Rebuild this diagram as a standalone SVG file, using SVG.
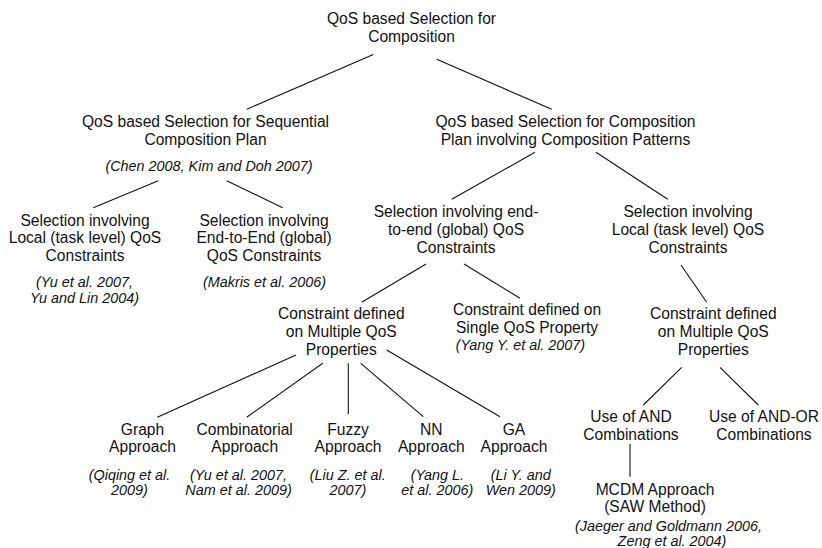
<svg xmlns="http://www.w3.org/2000/svg" width="822" height="548" viewBox="0 0 822 548">
<style>
text{font-family:"Liberation Sans",Arial,Helvetica,sans-serif;font-size:15.6px;text-anchor:middle;fill:#111}
text.c{font-style:italic;font-size:14.4px}
#edges line{stroke:#111;stroke-width:1.1}
</style>
<rect width="822" height="548" fill="#fff"/>
<g id="edges">
<line x1="373.3" y1="54.5" x2="246.7" y2="109.3"/>
<line x1="436.7" y1="59.3" x2="551.7" y2="109.3"/>
<line x1="158.3" y1="180.7" x2="93.3" y2="207.7"/>
<line x1="226.7" y1="180.7" x2="282.7" y2="207.7"/>
<line x1="535" y1="152.3" x2="451.7" y2="199.3"/>
<line x1="596" y1="152.3" x2="667.7" y2="199.3"/>
<line x1="426" y1="264" x2="361.7" y2="302.3"/>
<line x1="464" y1="264" x2="520" y2="298.3"/>
<line x1="681" y1="265" x2="706.7" y2="302.3"/>
<line x1="296" y1="355" x2="157.3" y2="417.3"/>
<line x1="322.7" y1="363.3" x2="246.7" y2="417.3"/>
<line x1="348.3" y1="363.3" x2="348.3" y2="414"/>
<line x1="360.7" y1="363.3" x2="423.3" y2="416.7"/>
<line x1="386.7" y1="350" x2="500" y2="416.7"/>
<line x1="681.7" y1="367.3" x2="643.3" y2="405"/>
<line x1="720" y1="367.3" x2="758.3" y2="405"/>
<line x1="630" y1="444" x2="630" y2="476.7"/>
</g>
<g id="root">
<text x="411.5" y="24.3">QoS based Selection for</text>
<text x="411.5" y="42">Composition</text>
</g>
<g id="seq">
<text x="205.5" y="127">QoS based Selection for Sequential</text>
<text x="205.5" y="145">Composition Plan</text>
<text class="c" x="209" y="171">(Chen 2008, Kim and Doh 2007)</text>
</g>
<g id="pat">
<text x="565.5" y="127">QoS based Selection for Composition</text>
<text x="565.5" y="145">Plan involving Composition Patterns</text>
</g>
<g id="seqLocal">
<text x="85" y="225.5">Selection involving</text>
<text x="85" y="243.3">Local (task level) QoS</text>
<text x="85" y="261">Constraints</text>
<text class="c" x="84.5" y="287">(Yu et al. 2007,</text>
<text class="c" x="84.5" y="302.5">Yu and Lin 2004)</text>
</g>
<g id="seqGlobal">
<text x="264" y="225.5">Selection involving</text>
<text x="264" y="243.3">End-to-End (global)</text>
<text x="264" y="261">QoS Constraints</text>
<text class="c" x="264.5" y="287">(Makris et al. 2006)</text>
</g>
<g id="patGlobal">
<text x="456" y="217">Selection involving end-</text>
<text x="456" y="234.8">to-end (global) QoS</text>
<text x="456" y="252.5">Constraints</text>
</g>
<g id="patLocal">
<text x="688" y="217">Selection involving</text>
<text x="688" y="234.8">Local (task level) QoS</text>
<text x="688" y="252.5">Constraints</text>
</g>
<g id="globalMulti">
<text x="341.3" y="319">Constraint defined</text>
<text x="341.3" y="336.7">on Multiple QoS</text>
<text x="341.3" y="354.5">Properties</text>
</g>
<g id="globalSingle">
<text x="527" y="315">Constraint defined on</text>
<text x="527" y="333">Single QoS Property</text>
<text class="c" x="520.5" y="350">(Yang Y. et al. 2007)</text>
</g>
<g id="localMulti">
<text x="713.3" y="319">Constraint defined</text>
<text x="713.3" y="336.7">on Multiple QoS</text>
<text x="713.3" y="354.5">Properties</text>
</g>
<g id="graph">
<text x="142.5" y="434.5">Graph</text>
<text x="142.5" y="452.3">Approach</text>
<text class="c" x="129.5" y="479.5">(Qiqing et al.</text>
<text class="c" x="129.5" y="495">2009)</text>
</g>
<g id="combinatorial">
<text x="244.7" y="434.5">Combinatorial</text>
<text x="244.7" y="452.3">Approach</text>
<text class="c" x="238.5" y="479.5">(Yu et al. 2007,</text>
<text class="c" x="238.5" y="495">Nam et al. 2009)</text>
</g>
<g id="fuzzy">
<text x="348" y="434.5">Fuzzy</text>
<text x="348" y="452.3">Approach</text>
<text class="c" x="347.8" y="479.5">(Liu Z. et al.</text>
<text class="c" x="347.8" y="495">2007)</text>
</g>
<g id="nn">
<text x="431.3" y="434.5">NN</text>
<text x="431.3" y="452.3">Approach</text>
<text class="c" x="437.3" y="479.5">(Yang L.</text>
<text class="c" x="437.3" y="495">et al. 2006)</text>
</g>
<g id="ga">
<text x="514" y="434.5">GA</text>
<text x="514" y="452.3">Approach</text>
<text class="c" x="520.7" y="479.5">(Li Y. and</text>
<text class="c" x="520.7" y="495">Wen 2009)</text>
</g>
<g id="andComb">
<text x="631" y="421.7">Use of AND</text>
<text x="631" y="440">Combinations</text>
</g>
<g id="andOrComb">
<text x="764" y="421.7">Use of AND-OR</text>
<text x="764" y="440">Combinations</text>
</g>
<g id="mcdm">
<text x="655" y="494.5">MCDM Approach</text>
<text x="655" y="512.3">(SAW Method)</text>
<text class="c" x="668.5" y="530.7">(Jaeger and Goldmann 2006,</text>
<text class="c" x="672" y="546">Zeng et al. 2004)</text>
</g>
</svg>
